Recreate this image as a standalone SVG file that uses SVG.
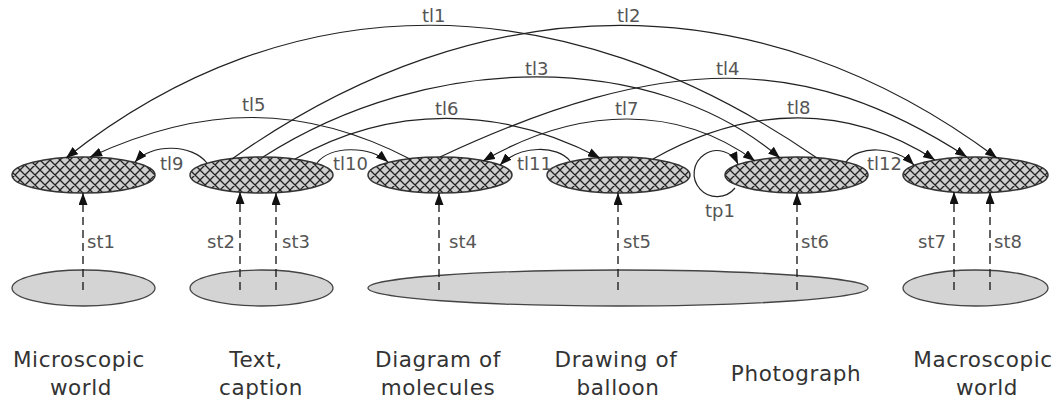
<svg xmlns="http://www.w3.org/2000/svg" width="1060" height="404" viewBox="0 0 1060 404">
<style>
.hn{fill:url(#hatch);stroke:#333;stroke-width:1.5}
.bn{fill:#d4d4d4;stroke:#444;stroke-width:1.3}
.tl{fill:none;stroke:#222;stroke-width:1.2;marker-end:url(#ah)}
.st{fill:none;stroke:#222;stroke-width:1.4;stroke-dasharray:8,5;marker-end:url(#ah)}
.lb{font-family:"DejaVu Sans",sans-serif;font-size:18px;fill:#555}
.nm{font-family:"DejaVu Sans",sans-serif;font-size:21.5px;fill:#333;letter-spacing:0.6px;text-anchor:middle}
</style>
<defs>
<pattern id="hatch" width="10" height="10" patternUnits="userSpaceOnUse">
<rect width="10" height="10" fill="#cfcfcf"/>
<path d="M0,0L10,10M10,0L0,10M-1,9L1,11M9,-1L11,1M9,11L11,9M-1,1L1,-1" stroke="#222" stroke-width="1.3"/>
</pattern>
<marker id="ah" markerUnits="userSpaceOnUse" markerWidth="13" markerHeight="9" refX="12" refY="4.5" orient="auto">
<path d="M0,0L12,4.5L0,9z" fill="#111"/>
</marker>
<marker id="ahs" markerUnits="userSpaceOnUse" markerWidth="13" markerHeight="9" refX="12" refY="4.5" orient="auto-start-reverse">
<path d="M0,0L12,4.5L0,9z" fill="#111"/>
</marker>
</defs>
<g id="bottom-nodes">
<g id="b1"><ellipse class="bn" cx="83.5" cy="288" rx="71.5" ry="18"/></g>
<g id="b2"><ellipse class="bn" cx="261.5" cy="288" rx="71.5" ry="18"/></g>
<g id="b3"><ellipse class="bn" cx="618" cy="288" rx="250" ry="18"/></g>
<g id="b4"><ellipse class="bn" cx="975.5" cy="288" rx="72.5" ry="18"/></g>
</g>
<g id="top-nodes">
<g id="n1"><ellipse class="hn" cx="83.5" cy="175" rx="71.5" ry="18"/></g>
<g id="n2"><ellipse class="hn" cx="261.5" cy="175" rx="71.5" ry="18"/></g>
<g id="n3"><ellipse class="hn" cx="440" cy="175" rx="72" ry="18"/></g>
<g id="n4"><ellipse class="hn" cx="618.5" cy="175" rx="71.5" ry="18"/></g>
<g id="n5"><ellipse class="hn" cx="796.5" cy="175" rx="71.5" ry="18"/></g>
<g id="n6"><ellipse class="hn" cx="975.5" cy="175" rx="72.5" ry="18"/></g>
</g>
<g id="connectors">
<path class="tl" d="M817,158 C560,-19 290,-19 66,158"/>
<path class="tl" d="M232,159 C483,-19 760,-19 997,158"/>
<path class="tl" d="M263,157 C430,50 654,50 780,158"/>
<path class="tl" d="M440,157 C665,52 805,52 967,157"/>
<path class="tl" d="M410,159 C304,104 204,104 90,157"/>
<path class="tl" d="M295,159 C390,105 500,105 600,158"/>
<path class="tl" d="M483,161 C580,105 679,105 755,161" marker-start="url(#ahs)"/>
<path class="tl" d="M653,159 C750,104 849,104 935,160"/>
<path class="tl" d="M207,163 C192,144 152,143 135,162"/>
<path class="tl" d="M317,163 C330,146 368,145 388,162"/>
<path class="tl" d="M570,161 C558,145 520,145 500,165"/>
<path class="tl" d="M846,162 C858,145 895,146 914,165"/>
<path class="tl" d="M735,188 A23,23 0 1 1 738,164"/>
<path class="st" d="M83,290 V193"/>
<path class="st" d="M240,290 V192"/>
<path class="st" d="M276,290 V193"/>
<path class="st" d="M439,290 V193"/>
<path class="st" d="M618,290 V193"/>
<path class="st" d="M797,290 V193"/>
<path class="st" d="M954,290 V192"/>
<path class="st" d="M990,290 V192"/>
</g>
<g id="labels">
<text class="lb" x="422" y="22">tl1</text>
<text class="lb" x="617" y="22">tl2</text>
<text class="lb" x="525" y="75">tl3</text>
<text class="lb" x="716" y="75">tl4</text>
<text class="lb" x="242" y="111">tl5</text>
<text class="lb" x="435" y="115">tl6</text>
<text class="lb" x="615" y="115">tl7</text>
<text class="lb" x="787" y="114">tl8</text>
<text class="lb" x="160" y="170">tl9</text>
<text class="lb" x="333" y="170">tl10</text>
<text class="lb" x="517" y="170">tl11</text>
<text class="lb" x="867" y="170">tl12</text>
<text class="lb" x="705" y="217">tp1</text>
<text class="lb" x="87" y="248">st1</text>
<text class="lb" x="235" y="248" text-anchor="end">st2</text>
<text class="lb" x="282" y="248">st3</text>
<text class="lb" x="449" y="248">st4</text>
<text class="lb" x="623" y="248">st5</text>
<text class="lb" x="801" y="248">st6</text>
<text class="lb" x="946" y="248" text-anchor="end">st7</text>
<text class="lb" x="994" y="248">st8</text>
</g>
<g id="names">
<text class="nm" x="79" y="367">Microscopic</text>
<text class="nm" x="81" y="395">world</text>
<text class="nm" x="256" y="367">Text,</text>
<text class="nm" x="261" y="395">caption</text>
<text class="nm" x="438" y="367">Diagram of</text>
<text class="nm" x="438" y="395">molecules</text>
<text class="nm" x="616" y="367">Drawing of</text>
<text class="nm" x="618" y="395">balloon</text>
<text class="nm" x="796" y="381">Photograph</text>
<text class="nm" x="983" y="367">Macroscopic</text>
<text class="nm" x="987" y="395">world</text>
</g>
</svg>
